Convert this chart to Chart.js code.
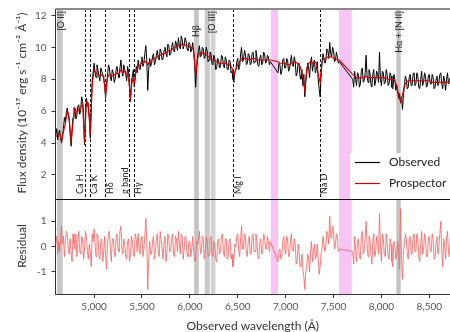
<!DOCTYPE html>
<html><head><meta charset="utf-8">
<script src="https://cdn.jsdelivr.net/npm/chart.js@4.4.1/dist/chart.umd.min.js"></script>
<style>
html,body{margin:0;padding:0;background:#fff;width:450px;height:332px;overflow:hidden}
#c1{position:absolute;left:0;top:0}
#c2{position:absolute;left:0;top:199px}
</style></head><body>
<canvas id="c1" width="450" height="199"></canvas>
<canvas id="c2" width="450" height="133"></canvas>
<script>
// ---------- data ----------
// model grid (20 Å)
const wavelength = [
4600,4620,4640,4660,4680,4700,4720,4740,4760,4780,
4800,4820,4840,4860,4880,4900,4920,4940,4960,4980,
5000,5020,5040,5060,5080,5100,5120,5140,5160,5180,
5200,5220,5240,5260,5280,5300,5320,5340,5360,5380,
5400,5420,5440,5460,5480,5500,5520,5540,5560,5580,
5600,5620,5640,5660,5680,5700,5720,5740,5760,5780,
5800,5820,5840,5860,5880,5900,5920,5940,5960,5980,
6000,6020,6040,6060,6080,6100,6120,6140,6160,6180,
6200,6220,6240,6260,6280,6300,6320,6340,6360,6380,
6400,6420,6440,6460,6480,6500,6520,6540,6560,6580,
6600,6620,6640,6660,6680,6700,6720,6740,6760,6780,
6800,6820,6840,6860,6880,6900,6920,6940,6960,6980,
7000,7020,7040,7060,7080,7100,7120,7140,7160,7180,
7200,7220,7240,7260,7280,7300,7320,7340,7360,7380,
7400,7420,7440,7460,7480,7500,7520,7540,7560,7580,
7600,7620,7640,7660,7680,7700,7720,7740,7760,7780,
7800,7820,7840,7860,7880,7900,7920,7940,7960,7980,
8000,8020,8040,8060,8080,8100,8120,8140,8160,8180,
8200,8220,8240,8260,8280,8300,8320,8340,8360,8380,
8400,8420,8440,8460,8480,8500,8520,8540,8560,8580,
8600,8620,8640,8660,8680,8700,8720];

const prospector = [
4.4,4.5,4.6,4.1,4.7,5.2,6.0,5.6,4.0,5.3,
6.2,5.9,6.1,6.3,6.4,4.0,6.6,6.5,4.5,7.6,
8.6,8.4,8.3,8.2,8.3,8.2,7.0,8.1,8.3,8.2,
8.2,8.3,8.4,8.3,8.6,8.4,8.5,8.3,8.1,6.9,
8.0,7.8,8.6,8.8,8.9,9.0,9.1,9.1,8.9,9.1,
9.2,9.3,9.3,9.4,9.5,9.5,9.6,9.6,9.7,9.8,
9.8,9.9,10.0,10.0,10.1,10.1,10.2,10.2,10.1,10.1,
10.0,10.0,9.8,8.2,9.3,9.6,9.7,9.6,9.6,9.5,
9.4,9.3,9.2,9.2,9.1,9.0,9.0,9.0,9.0,9.0,
8.9,8.9,8.7,8.2,8.6,8.9,9.1,9.3,9.3,9.3,
9.3,9.2,9.3,9.3,9.3,9.2,9.2,9.2,9.2,9.2,
9.2,9.2,9.2,null,null,null,9.1,9.0,9.0,9.0,
9.0,8.9,8.9,9.0,9.0,9.1,9.0,9.0,8.6,8.1,
7.3,8.7,9.0,9.1,9.0,9.1,9.0,8.3,7.8,9.2,
9.3,9.3,9.4,9.4,9.4,9.3,9.3,9.2,9.2,null,
null,null,null,null,null,8.3,8.2,8.1,8.1,8.1,
8.1,8.1,8.2,8.1,8.1,8.1,8.1,8.1,8.1,8.1,
8.1,8.1,8.1,8.0,8.0,8.0,8.0,7.9,7.6,7.0,
6.6,7.0,7.6,7.8,7.9,7.9,7.9,7.9,7.9,7.9,
7.9,7.9,7.9,7.9,7.9,7.9,7.8,7.8,7.8,7.8,
7.8,7.8,7.8,7.8,7.8,7.8,7.8];

// observed spectrum grid (10 Å)
const wavelengthFine = [
4600,4610,4620,4630,4640,4650,4660,4670,4680,4690,4700,4710,4720,4730,4740,4750,4760,4770,4780,4790,
4800,4810,4820,4830,4840,4850,4860,4870,4880,4890,4900,4910,4920,4930,4940,4950,4960,4970,4980,4990,
5000,5010,5020,5030,5040,5050,5060,5070,5080,5090,5100,5110,5120,5130,5140,5150,5160,5170,5180,5190,
5200,5210,5220,5230,5240,5250,5260,5270,5280,5290,5300,5310,5320,5330,5340,5350,5360,5370,5380,5390,
5400,5410,5420,5430,5440,5450,5460,5470,5480,5490,5500,5510,5520,5530,5540,5550,5560,5570,5580,5590,
5600,5610,5620,5630,5640,5650,5660,5670,5680,5690,5700,5710,5720,5730,5740,5750,5760,5770,5780,5790,
5800,5810,5820,5830,5840,5850,5860,5870,5880,5890,5900,5910,5920,5930,5940,5950,5960,5970,5980,5990,
6000,6010,6020,6030,6040,6050,6060,6070,6080,6090,6100,6110,6120,6130,6140,6150,6160,6170,6180,6190,
6200,6210,6220,6230,6240,6250,6260,6270,6280,6290,6300,6310,6320,6330,6340,6350,6360,6370,6380,6390,
6400,6410,6420,6430,6440,6450,6460,6470,6480,6490,6500,6510,6520,6530,6540,6550,6560,6570,6580,6590,
6600,6610,6620,6630,6640,6650,6660,6670,6680,6690,6700,6710,6720,6730,6740,6750,6760,6770,6780,6790,
6800,6810,6820,6830,6840,6850,6860,6870,6880,6890,6900,6910,6920,6930,6940,6950,6960,6970,6980,6990,
7000,7010,7020,7030,7040,7050,7060,7070,7080,7090,7100,7110,7120,7130,7140,7150,7160,7170,7180,7190,
7200,7210,7220,7230,7240,7250,7260,7270,7280,7290,7300,7310,7320,7330,7340,7350,7360,7370,7380,7390,
7400,7410,7420,7430,7440,7450,7460,7470,7480,7490,7500,7510,7520,7530,7540,7550,7560,7570,7580,7590,
7600,7610,7620,7630,7640,7650,7660,7670,7680,7690,7700,7710,7720,7730,7740,7750,7760,7770,7780,7790,
7800,7810,7820,7830,7840,7850,7860,7870,7880,7890,7900,7910,7920,7930,7940,7950,7960,7970,7980,7990,
8000,8010,8020,8030,8040,8050,8060,8070,8080,8090,8100,8110,8120,8130,8140,8150,8160,8170,8180,8190,
8200,8210,8220,8230,8240,8250,8260,8270,8280,8290,8300,8310,8320,8330,8340,8350,8360,8370,8380,8390,
8400,8410,8420,8430,8440,8450,8460,8470,8480,8490,8500,8510,8520,8530,8540,8550,8560,8570,8580,8590,
8600,8610,8620,8630,8640,8650,8660,8670,8680,8690,8700,8710,8720];

const observed = [
4.5,4.9,4.2,4.6,4.8,4.3,4.0,4.5,4.9,5.6,5.3,5.9,6.2,5.8,5.4,4.6,3.8,4.9,5.6,6.2,
6.1,5.5,5.7,6.3,6.4,5.8,6.0,6.9,6.6,5.9,3.9,5.8,6.8,6.4,6.2,5.6,4.3,6.1,7.9,8.4,
9.0,8.4,8.1,8.9,8.6,8.2,7.9,8.7,8.5,8.3,8.0,7.6,6.8,7.7,8.2,8.9,8.7,8.1,7.9,8.6,
8.4,7.8,8.0,8.6,8.8,8.3,8.1,8.7,9.2,8.5,8.2,8.9,8.6,8.3,7.9,8.8,8.5,7.4,6.6,7.9,
8.2,8.6,7.5,8.1,8.8,8.4,9.2,8.7,8.6,9.1,9.4,8.8,9.0,9.6,10.1,9.2,7.3,8.6,9.3,8.8,
9.0,9.4,9.6,8.9,9.1,9.5,9.8,9.3,9.2,9.9,9.7,9.2,9.3,9.8,10.0,9.6,9.4,10.2,10.1,9.5,
9.6,10.0,10.3,9.8,9.7,10.4,10.2,9.8,10.6,10.1,9.9,10.7,10.5,9.9,10.1,10.6,10.4,9.9,9.8,10.3,
10.2,9.7,9.9,10.3,9.6,9.0,7.5,8.6,9.4,9.8,10.1,9.4,9.5,10.0,9.9,9.3,9.4,10.0,9.8,9.1,
9.2,9.7,9.6,9.0,8.9,9.5,9.3,8.6,8.7,9.3,9.2,8.7,8.8,9.5,9.4,8.9,8.7,9.4,9.2,8.6,
8.6,9.2,9.1,8.4,8.5,8.0,7.8,8.5,8.6,9.1,9.3,8.6,8.8,9.6,10.0,9.1,9.2,9.8,9.6,8.9,
9.0,9.6,9.5,8.9,9.0,9.6,9.7,9.0,9.1,9.8,9.4,8.9,8.8,9.3,9.5,8.9,9.0,9.7,9.6,9.0,
9.1,9.5,9.4,8.9,9.1,null,null,null,null,null,null,null,8.4,9.0,8.9,8.3,8.5,9.2,9.3,8.7,
8.7,9.3,9.2,8.5,8.6,9.1,9.5,8.9,8.8,9.4,9.1,8.2,8.4,9.0,8.9,8.2,8.0,8.6,7.6,8.3,
6.9,7.8,8.3,9.0,8.7,8.1,9.0,9.4,8.5,8.9,9.2,8.4,8.6,9.1,8.0,7.4,6.9,8.2,9.0,9.6,
9.6,9.0,9.2,9.9,9.8,9.3,10.3,9.6,9.4,10.0,9.8,9.1,9.2,9.7,9.4,9.0,9.1,null,null,null,
null,null,null,null,null,null,null,null,null,null,8.0,7.5,8.5,8.0,7.6,8.4,8.3,7.5,7.7,8.5,
8.7,7.8,7.9,8.4,9.5,8.2,7.8,8.6,8.4,7.7,7.5,8.3,8.6,7.6,7.9,8.5,8.3,7.8,9.7,8.0,
7.6,8.5,8.4,7.7,7.8,8.6,8.3,7.6,7.7,8.4,8.2,7.5,7.4,8.3,8.0,7.3,7.6,7.2,6.8,7.1,
6.5,6.9,6.1,7.0,7.6,8.2,8.0,7.4,7.5,8.1,8.3,7.6,7.6,8.3,8.4,7.6,7.7,8.4,8.2,7.5,
7.4,8.0,8.5,7.6,7.8,8.4,8.2,7.5,7.6,8.2,8.3,7.7,7.7,8.3,8.1,7.4,7.5,8.0,8.2,7.6,
7.8,8.3,8.4,7.7,7.4,8.2,7.9,7.3,8.0,8.4,7.7,8.0,8.1];

const residual = [
0.1,0.4,-0.3,0.2,-0.2,0.3,0.8,0.1,0.4,-0.4,0.2,0.6,0.5,-0.1,-0.3,0.3,-0.2,-0.6,0.5,0.1,
-0.1,0.5,-0.4,0.2,0.6,-0.2,-0.3,0.4,0.3,-0.5,-0.1,0.6,0.4,-0.2,-0.5,0.1,-0.2,-0.8,0.5,0.2,
0.7,0.1,-0.4,0.5,0.4,-0.3,-0.5,0.2,0.3,-0.6,-0.2,0.4,-0.3,-0.9,0.1,0.5,0.6,-0.1,-0.6,0.3,
0.3,-0.2,-0.4,0.4,0.5,-0.1,-0.2,0.6,0.8,-0.1,-0.3,0.3,0.1,-0.4,-0.5,0.2,0.3,-0.6,-0.3,0.4,
0.2,-0.3,-0.4,0.5,0.3,-0.2,0.5,-0.1,-0.3,0.3,0.4,-0.4,-0.1,0.4,1.1,0.2,-1.7,-0.5,0.2,-0.3,
-0.3,0.2,0.4,-0.5,-0.2,0.3,0.5,-0.3,-0.4,0.6,0.3,-0.1,-0.5,0.2,0.4,-0.6,-0.3,0.5,0.3,-0.2,
-0.2,0.3,0.5,-0.3,-0.4,0.4,0.3,-0.2,0.6,0.1,-0.3,0.5,0.4,-0.5,-0.1,0.4,0.3,-0.3,-0.4,0.2,
0.2,-0.4,-0.1,0.4,-0.2,-0.6,-0.5,0.2,0.1,0.3,0.6,-0.3,-0.2,0.4,0.3,-0.5,-0.3,0.4,0.3,-0.4,
-0.3,0.3,0.4,-0.2,-0.4,0.2,0.1,-0.5,-0.6,0.2,0.3,-0.3,-0.2,0.4,0.5,-0.2,-0.4,0.3,0.3,-0.5,
-0.4,0.2,0.3,-0.5,-0.3,-0.8,-0.5,0.1,0.0,0.4,0.5,-0.2,-0.4,0.3,0.8,-0.1,-0.1,0.5,0.3,-0.3,
-0.4,0.3,0.4,-0.3,-0.3,0.4,0.5,-0.2,-0.2,0.5,0.2,-0.4,-0.5,0.1,0.3,-0.3,-0.2,0.5,0.4,-0.1,
-0.1,0.4,0.2,-0.2,0.2,null,null,null,null,null,null,null,-0.6,-0.2,-0.1,-0.5,-0.4,0.2,0.4,-0.1,
-0.3,0.4,0.3,-0.4,-0.3,0.2,0.5,-0.1,-0.2,0.3,0.1,-0.7,-0.6,0.1,-0.2,-0.8,-0.7,-0.3,-0.9,-1.2,
-1.7,-1.0,-0.8,-0.3,-0.5,-1.0,-0.2,0.2,-0.6,-0.2,0.1,-0.5,-0.4,0.1,-0.5,-1.1,-0.8,-0.3,-0.1,0.4,
0.4,-0.2,0.0,0.6,0.5,0.1,1.2,0.4,0.3,0.8,0.6,-0.1,0.1,0.5,0.4,-0.2,-0.1,null,null,null,
null,null,null,null,null,null,null,null,null,null,-0.2,-0.7,0.4,-0.1,-0.6,0.2,0.3,-0.4,-0.5,0.4,
0.6,-0.3,-0.2,0.3,1.0,0.1,-0.4,0.4,0.3,-0.3,-0.7,0.2,0.5,-0.4,-0.2,0.4,0.2,-0.3,1.3,0.0,
-0.6,0.5,0.3,-0.3,-0.4,0.5,0.2,-0.4,-0.5,0.3,0.1,-0.6,-0.8,0.2,0.1,-0.5,-0.3,0.2,-0.2,-0.9,
1.5,-0.5,-1.3,-0.2,0.1,0.5,0.3,-0.3,-0.5,0.3,0.4,-0.3,-0.3,0.4,0.5,-0.2,-0.2,0.5,0.3,-0.4,
-0.6,0.1,0.6,-0.3,-0.1,0.5,0.3,-0.4,-0.4,0.3,0.4,-0.2,-0.2,0.5,0.3,-0.5,-0.4,0.2,0.4,-0.3,
0.0,0.5,1.0,-0.2,-0.8,0.3,0.1,-0.5,0.3,0.6,-0.2,-0.4,0.3];

const fluxTicks = [2, 4, 6, 8, 10, 12];
const residualTicks = [-1, 0, 1];
const wavelengthTicks = [5000, 5500, 6000, 6500, 7000, 7500, 8000, 8500];

// masked emission-line windows (grey) and telluric windows (pink), in Å
const maskLo = [4612, 6045, 6155, 6218, 8156];
const maskHi = [4672, 6093, 6208, 6267, 8201];
const maskShade = ['#c7c7c7', '#c4c4c4', '#c9c9c9', '#d2d2d2', '#c2c2c2'];
const telluricLo = [6845, 7557];
const telluricHi = [6920, 7690];
const emissionNames = ['[O II]', 'Hβ', '[O III]', 'Hα + [N II]'];
const emissionAt = [4660, 6069, 6229, 8186];
// absorption features (dashed)
const absorptionNames = ['Ca H', 'Ca K', 'Hδ', 'g band', 'Hγ', 'Mg I', 'Na D'];
const absorptionAt = [4906, 4952, 5119, 5369, 5414, 6451, 7356];
const absorptionSide = [-1, 1, 1, -1, 1, 1, 1];

// ---------- styling / layout ----------
const FONT = 'Lato, "Liberation Sans", sans-serif';
const X_MIN = 4597, X_MAX = 8716, LEFT = 55.5;

function pts(xs, ys) { return xs.map((w, i) => ({x: w, y: ys[i]})); }

function fixAxis(w, h) {
  return (a) => {
    if (w !== null) a.width = w;
    if (h !== null) a.height = h;
    a.paddingTop = 0; a.paddingBottom = 0; a.paddingLeft = 0; a.paddingRight = 0;
  };
}

function drawBands(chart, top) {
  const {ctx, chartArea: a, scales: {x}} = chart;
  ctx.save();
  ctx.beginPath(); ctx.rect(a.left, a.top, a.right - a.left, a.bottom - a.top); ctx.clip();
  telluricLo.forEach((lo, i) => {
    const x0 = x.getPixelForValue(lo), x1 = x.getPixelForValue(telluricHi[i]);
    ctx.fillStyle = '#f8c4f6';
    ctx.fillRect(x0, a.top, x1 - x0, a.bottom - a.top);
  });
  maskLo.forEach((lo, i) => {
    const x0 = x.getPixelForValue(lo), x1 = x.getPixelForValue(maskHi[i]);
    ctx.fillStyle = maskShade[i];
    ctx.fillRect(x0, a.top, x1 - x0, a.bottom - a.top);
  });
  if (top) {
    ctx.strokeStyle = '#111'; ctx.lineWidth = 1; ctx.setLineDash([3, 2]);
    absorptionAt.forEach(w => {
      const px = Math.round(x.getPixelForValue(w)) + 0.5;
      ctx.beginPath(); ctx.moveTo(px, a.top); ctx.lineTo(px, a.bottom); ctx.stroke();
    });
    ctx.setLineDash([]);
  }
  ctx.restore();
}

function rotText(ctx, txt, x, y, align) {
  ctx.save();
  ctx.translate(x, y); ctx.rotate(-Math.PI / 2);
  ctx.textAlign = align; ctx.textBaseline = 'middle';
  ctx.fillText(txt, 0, 0);
  ctx.restore();
}

const topPlugin = {
  id: 'topDeco',
  beforeDatasetsDraw(chart) { drawBands(chart, true); },
  afterDraw(chart) {
    const {ctx, chartArea: a, scales: {x}} = chart;
    ctx.save();
    ctx.fillStyle = '#8a8a8a';
    ctx.fillRect(a.left, a.top - 1, a.right - a.left, 2);
    ctx.fillStyle = '#222';
    ctx.font = '9px ' + FONT;
    absorptionAt.forEach((w, i) => {
      const px = x.getPixelForValue(w) + absorptionSide[i] * 4.8;
      rotText(ctx, absorptionNames[i], px, 194, 'left');
    });
    emissionAt.forEach((w, i) => {
      const px = x.getPixelForValue(w);
      if (emissionNames[i] === 'Hβ') rotText(ctx, emissionNames[i], px, 37, 'left');
      else rotText(ctx, emissionNames[i], px, 11, 'right');
    });
    // legend
    ctx.fillStyle = '#fff';
    ctx.fillRect(350, 153, 100, 46);
    ctx.lineWidth = 1.2;
    ctx.strokeStyle = '#000';
    ctx.beginPath(); ctx.moveTo(355, 162.5); ctx.lineTo(380, 162.5); ctx.stroke();
    ctx.strokeStyle = '#cc0000';
    ctx.beginPath(); ctx.moveTo(355, 183.5); ctx.lineTo(380, 183.5); ctx.stroke();
    ctx.fillStyle = '#222';
    ctx.font = '12px ' + FONT;
    ctx.textAlign = 'left'; ctx.textBaseline = 'middle';
    ctx.fillText('Observed', 389, 162);
    ctx.fillText('Prospector', 389, 183);
    ctx.fillStyle = '#333';
    ctx.font = '12px ' + FONT;
    rotText(ctx, 'Flux density (10⁻¹⁷ erg s⁻¹ cm⁻² Å⁻¹)', 22, 103, 'center');
    ctx.restore();
  }
};

const bottomPlugin = {
  id: 'bottomDeco',
  beforeDatasetsDraw(chart) { drawBands(chart, false); },
  afterDraw(chart) {
    const {ctx, chartArea: a} = chart;
    ctx.save();
    ctx.fillStyle = '#111';
    ctx.fillRect(a.left, 0, a.right - a.left, 1);
    ctx.fillStyle = '#333';
    ctx.font = '12px ' + FONT;
    rotText(ctx, 'Residual', 22, 47, 'center');
    ctx.textAlign = 'center'; ctx.textBaseline = 'middle';
    ctx.fillText('Observed wavelength (Å)', (a.left + a.right) / 2, 127);
    ctx.restore();
  }
};

const tickFont = {family: FONT, size: 10};
const common = {
  responsive: false, animation: false, devicePixelRatio: 1,
  plugins: {legend: {display: false}, tooltip: {enabled: false}},
  elements: {point: {radius: 0}, line: {tension: 0}},
};

new Chart(document.getElementById('c1'), {
  type: 'line',
  data: {datasets: [
    {label: 'Prospector', data: pts(wavelength, prospector), borderColor: '#d40000', borderWidth: 1.1, spanGaps: true},
    {label: 'Observed', data: pts(wavelengthFine, observed), borderColor: '#000', borderWidth: 1, spanGaps: true}
  ]},
  options: Object.assign({}, common, {
    layout: {padding: {top: 9, right: 0, bottom: 0, left: 0}},
    scales: {
      x: {type: 'linear', min: X_MIN, max: X_MAX, display: false},
      y: {
        min: 0.49, max: 12.4,
        afterBuildTicks: s => { s.ticks = fluxTicks.map(v => ({value: v})); },
        afterFit: fixAxis(LEFT, null),
        ticks: {color: '#555', font: tickFont, padding: 5},
        grid: {drawOnChartArea: false, drawTicks: true, tickLength: 4, color: '#333'},
        border: {display: true, color: '#333', width: 1}
      }
    }
  }),
  plugins: [topPlugin]
});

new Chart(document.getElementById('c2'), {
  type: 'line',
  data: {datasets: [
    {label: 'Residual', data: pts(wavelengthFine, residual), borderColor: 'rgba(243,105,105,0.85)', borderWidth: 1, spanGaps: true}
  ]},
  options: Object.assign({}, common, {
    layout: {padding: {top: 0, right: 0, bottom: 0, left: 0}},
    scales: {
      x: {
        type: 'linear', min: X_MIN, max: X_MAX,
        afterBuildTicks: s => { s.ticks = wavelengthTicks.map(v => ({value: v})); },
        afterFit: fixAxis(null, 38),
        ticks: {color: '#555', font: tickFont, padding: 3, maxRotation: 0, callback: v => v.toLocaleString('en-US')},
        grid: {drawOnChartArea: false, drawTicks: true, tickLength: 4, color: '#333'},
        border: {display: true, color: '#333', width: 1}
      },
      y: {
        min: -1.88, max: 1.88,
        afterBuildTicks: s => { s.ticks = residualTicks.map(v => ({value: v})); },
        afterFit: fixAxis(LEFT, null),
        ticks: {color: '#555', font: tickFont, padding: 5},
        grid: {drawOnChartArea: false, drawTicks: true, tickLength: 4, color: '#333'},
        border: {display: true, color: '#333', width: 1}
      }
    }
  }),
  plugins: [bottomPlugin]
});
</script>
</body></html>
